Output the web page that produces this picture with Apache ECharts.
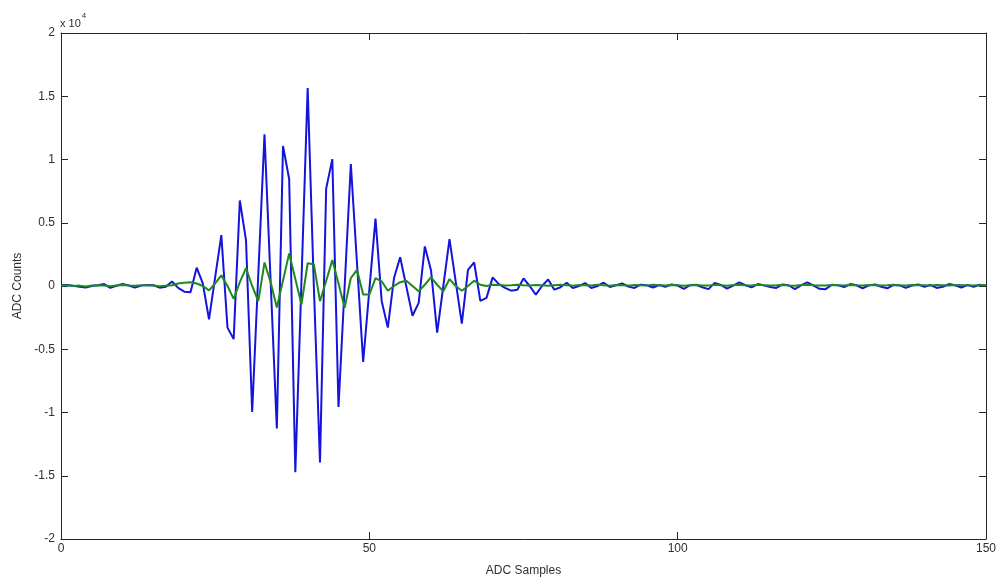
<!DOCTYPE html>
<html>
<head>
<meta charset="utf-8">
<script src="https://cdn.jsdelivr.net/npm/echarts@6/dist/echarts.min.js"></script>
<style>
html,body{margin:0;padding:0;background:#fff;overflow:hidden;}
#chart{width:1001px;height:582px;}
</style>
</head>
<body>
<div id="chart"></div>
<script>
// Tick labels (in units of 1e4 counts)
var yTickLabels = ['-2','-1.5','-1','-0.5','0','0.5','1','1.5','2'];
var xTickLabels = ['0','50','100','150'];

// ADC counts per sample (sample index = position in array, 0..150)
var blueCounts = [
  50, 80, 20, -60, -120, 0, 60, 150, -150, 20,
  160, 40, -130, 30, 80, 60, -130, -60, 350, -150,
  -450, -500, 1450, 200, -2640, 700, 4020, -3290, -4200, 6760,
  3630, -9950, 1000, 11990, 300, -11260, 11070, 8460, -14730, 500,
  15640, 0, -13950, 7700, 10030, -9560, 0, 9640, 1800, -6000,
  -300, 5330, -1180, -3290, 630, 2270, -40, -2350, -1330, 3130,
  1250, -3680, 0, 3710, 365, -2980, 1280, 1860, -1180, -940,
  680, 150, -150, -370, -300, 600, 0, -680, 0, 520,
  -290, -100, 260, -160, 0, 230, -160, 0, 260, -80,
  60, 200, -50, -150, 100, 50, -120, 80, -60, 120,
  40, -220, 60, 100, -100, -250, 250, 80, -200, 30,
  280, 60, -100, 150, 50, -80, -150, 120, 60, -250,
  50, 280, 50, -220, -250, 100, 60, -80, 150, 60,
  -180, 50, 120, -60, -180, 80, 60, -150, 40, 120,
  -60, 80, -150, -60, 150, 60, -120, 80, -60, 100,
  30
];
var greenCounts = [
  40, 60, 0, 30, -40, 40, 60, 40, -20, 40,
  80, 40, 20, 50, 60, 40, -20, 20, 60, 200,
  250, 300, 200, 0, -350, 200, 840, 0, -1020, 300,
  1410, 0, -1200, 1860, 300, -1700, 440, 2580, 560, -1460,
  1800, 1720, -1200, 400, 2060, 200, -1720, 630, 1280, -680,
  -680, 630, 370, -370, 0, 300, 420, 0, -420, 100,
  680, 100, -420, 550, 0, -370, 0, 420, 100, 0,
  100, 80, 40, 60, 100, 50, 40, 80, 60, 20,
  60, 100, 50, 30, 80, 60, 40, 90, 50, 20,
  70, 60, 30, 80, 50, 40, 90, 60, 30, 70,
  50, 20, 60, 80, 40, 30, 90, 60, 20, 70,
  80, 50, 40, 90, 60, 30, 50, 80, 40, 20,
  70, 90, 50, 30, 40, 80, 60, 30, 70, 50,
  40, 80, 60, 30, 50, 90, 40, 30, 70, 60,
  50, 40, 80, 60, 30, 70, 50, 60, 40, 80,
  50
];

function toPairs(arr){ return arr.map(function(v,i){ return [i, v]; }); }

var textColor = '#2e2e2e';
var axisColor = '#262626';
var fontFamily = 'Liberation Sans, Arial, Helvetica, sans-serif';

function axisBase(){
  return {
    axisLine: {show: true, onZero: false, lineStyle: {color: axisColor, width: 1}},
    axisTick: {show: true, inside: true, length: 7, lineStyle: {color: axisColor}},
    splitLine: {show: false}
  };
}

var chart = echarts.init(document.getElementById('chart'), null, {renderer:'canvas', width: 1001, height: 582});
chart.setOption({
  backgroundColor: '#ffffff',
  animation: false,
  grid: {left: 61, top: 33, width: 925, height: 510, containLabel: false},
  xAxis: [Object.assign(axisBase(), {
    type: 'value', min: 0, max: 150, interval: 50, position: 'bottom',
    name: 'ADC Samples', nameLocation: 'middle', nameGap: 26,
    nameTextStyle: {color: textColor, fontSize: 12, fontFamily: fontFamily},
    axisLabel: {color: textColor, fontSize: 12, fontFamily: fontFamily, margin: 4,
      formatter: function(v){ return xTickLabels[Math.round(v/50)]; }}
  }), Object.assign(axisBase(), {
    type: 'value', min: 0, max: 150, interval: 50, position: 'top',
    axisLabel: {show: false}
  })],
  yAxis: [Object.assign(axisBase(), {
    type: 'value', min: -20000, max: 20000, interval: 5000, position: 'left',
    name: 'ADC Counts', nameLocation: 'middle', nameGap: 35, nameRotate: 90,
    nameTextStyle: {color: textColor, fontSize: 12, fontFamily: fontFamily},
    axisLabel: {color: textColor, fontSize: 12, fontFamily: fontFamily, margin: 6,
      formatter: function(v){ return yTickLabels[Math.round((v+20000)/5000)]; }}
  }), Object.assign(axisBase(), {
    type: 'value', min: -20000, max: 20000, interval: 5000, position: 'right',
    axisLabel: {show: false}
  })],
  graphic: [{
    type: 'text', left: 60, top: 12,
    style: {
      text: '{a|x 10}{b|4}',
      rich: {
        a: {fontSize: 11, fill: textColor, fontFamily: fontFamily, padding:[6,0,0,0]},
        b: {fontSize: 8, fill: textColor, fontFamily: fontFamily, verticalAlign: 'top', padding:[0,0,0,1]}
      }
    }
  }],
  series: [{
    type: 'line', name: 'raw', data: toPairs(blueCounts),
    xAxisIndex: 0, yAxisIndex: 0,
    showSymbol: false, symbol: 'none',
    lineStyle: {color: '#1414dc', width: 2},
    itemStyle: {color: '#1414dc'},
    z: 2
  },{
    type: 'line', name: 'filtered', data: toPairs(greenCounts),
    xAxisIndex: 0, yAxisIndex: 0,
    showSymbol: false, symbol: 'none',
    lineStyle: {color: '#1e8a1e', width: 2},
    itemStyle: {color: '#1e8a1e'},
    z: 3
  }]
});
</script>
</body>
</html>
